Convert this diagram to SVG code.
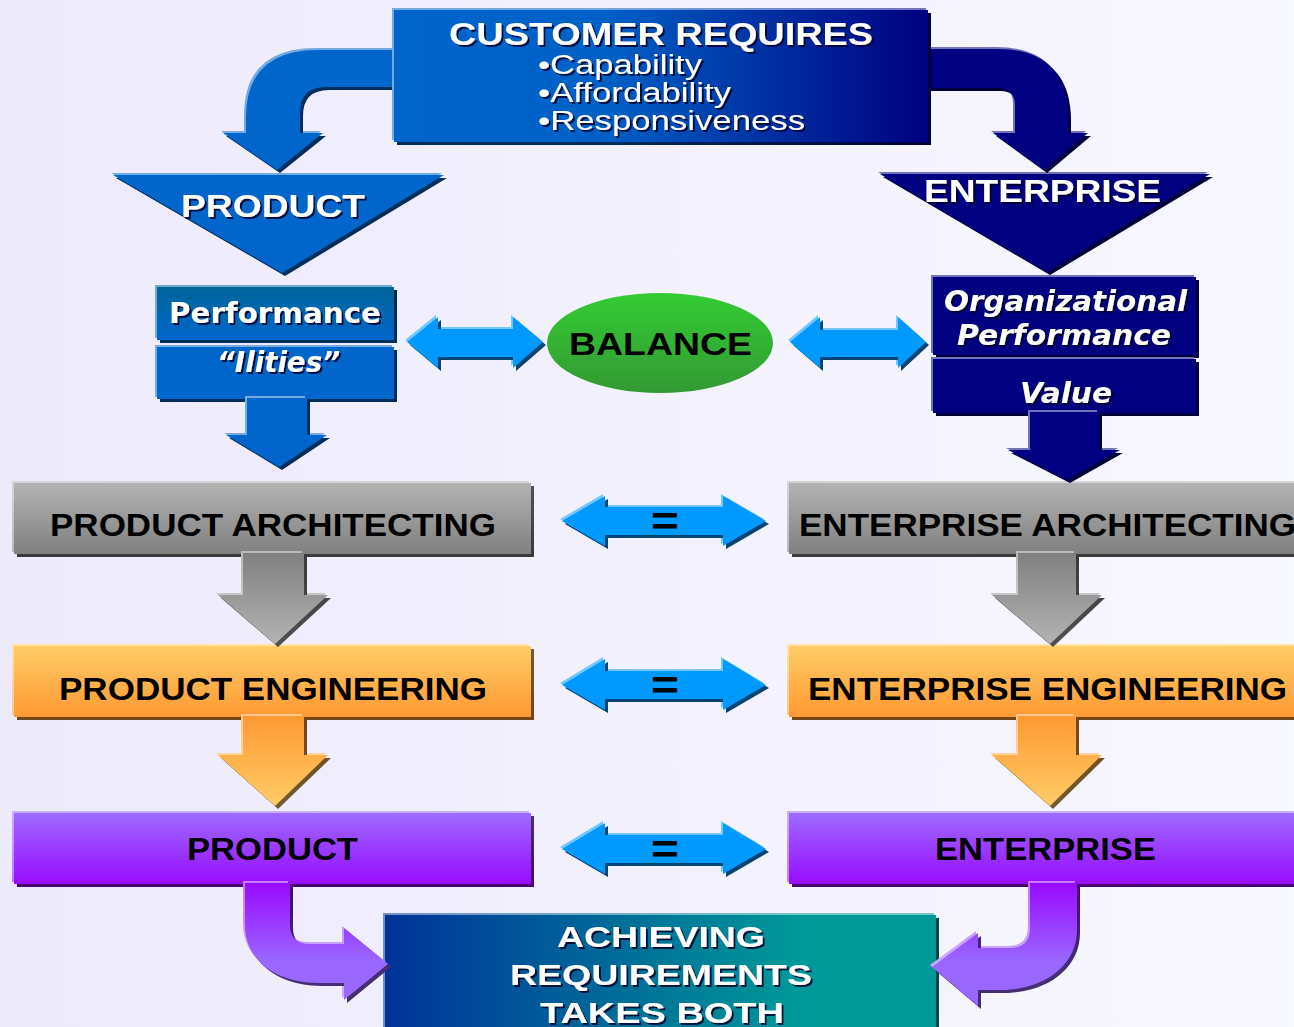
<svg xmlns="http://www.w3.org/2000/svg" width="1294" height="1027" viewBox="0 0 1294 1027">
<defs>
<linearGradient id="bg" x1="0" y1="0" x2="1" y2="0"><stop offset="0" stop-color="#EDEAFC"/><stop offset="1" stop-color="#F8F8FF"/></linearGradient>
<linearGradient id="gCust" x1="0" y1="0" x2="1" y2="0"><stop offset="0" stop-color="#0066CC"/><stop offset="0.4" stop-color="#0060C6"/><stop offset="1" stop-color="#000080"/></linearGradient>
<linearGradient id="gPerf" x1="0" y1="0" x2="0" y2="1"><stop offset="0" stop-color="#006699"/><stop offset="1" stop-color="#0066CC"/></linearGradient>
<linearGradient id="gGray" x1="0" y1="0" x2="0" y2="1"><stop offset="0" stop-color="#B3B3B3"/><stop offset="1" stop-color="#808080"/></linearGradient>
<linearGradient id="gGrayA" x1="0" y1="0" x2="0" y2="1"><stop offset="0" stop-color="#808080"/><stop offset="1" stop-color="#B3B3B3"/></linearGradient>
<linearGradient id="gOr" x1="0" y1="0" x2="0" y2="1"><stop offset="0" stop-color="#FFCC66"/><stop offset="1" stop-color="#FF9933"/></linearGradient>
<linearGradient id="gOrA" x1="0" y1="0" x2="0" y2="1"><stop offset="0" stop-color="#FF9933"/><stop offset="1" stop-color="#FFCC66"/></linearGradient>
<linearGradient id="gPur" x1="0" y1="0" x2="0" y2="1"><stop offset="0" stop-color="#9D6BFF"/><stop offset="1" stop-color="#990BFF"/></linearGradient>
<linearGradient id="gPurA" gradientUnits="userSpaceOnUse" x1="0" y1="884" x2="0" y2="960"><stop offset="0" stop-color="#990BFF"/><stop offset="1" stop-color="#9966FF"/></linearGradient>
<linearGradient id="gBal" x1="0" y1="0" x2="0" y2="1"><stop offset="0" stop-color="#33CC33"/><stop offset="1" stop-color="#339933"/></linearGradient>
<linearGradient id="gAch" x1="0" y1="0" x2="1" y2="0"><stop offset="0" stop-color="#003399"/><stop offset="0.75" stop-color="#009999"/><stop offset="1" stop-color="#009999"/></linearGradient>
<filter id="bev" x="-10%" y="-10%" width="120%" height="125%" color-interpolation-filters="sRGB">
<feOffset in="SourceGraphic" dx="-2" dy="-2" result="o1"/>
<feColorMatrix in="o1" type="matrix" values="0.55 0 0 0 0.45 0 0.55 0 0 0.45 0 0 0.55 0 0.45 0 0 0 1 0" result="hi"/>
<feOffset in="SourceGraphic" dx="3" dy="3" result="o2"/>
<feColorMatrix in="o2" type="matrix" values="0.45 0 0 0 0 0 0.45 0 0 0 0 0 0.45 0 0 0 0 0 1 0" result="sh"/>
<feMerge><feMergeNode in="hi"/><feMergeNode in="sh"/><feMergeNode in="SourceGraphic"/></feMerge>
</filter>
<filter id="ts" x="-5%" y="-20%" width="110%" height="140%">
<feDropShadow dx="2" dy="2" stdDeviation="0" flood-color="#00002A" flood-opacity="0.85"/>
</filter>
</defs>
<style>
.w{fill:#fff;font-family:"Liberation Sans",Arial,sans-serif;font-weight:bold;filter:url(#ts)}
.wn{fill:#fff;font-family:"Liberation Sans",Arial,sans-serif;filter:url(#ts)}
.v{fill:#fff;font-family:"DejaVu Sans",Verdana,sans-serif;font-weight:bold;filter:url(#ts)}
.vi{fill:#fff;font-family:"DejaVu Sans",Verdana,sans-serif;font-weight:bold;font-style:italic;filter:url(#ts)}
.k{fill:#000;font-family:"Liberation Sans",Arial,sans-serif;font-weight:bold}
.b{filter:url(#bev)}
.eq{fill:#0099FF;filter:url(#bev)}
</style>
<rect width="1294" height="1027" fill="url(#bg)"/>

<g id="nodes">
<g id="product-triangle">
<polygon class="b" points="113,175 444,175 282,273" fill="#0066CC"/>
<text class="w" x="181" y="217" font-size="31" textLength="184" lengthAdjust="spacingAndGlyphs">PRODUCT</text>
</g>
<g id="enterprise-triangle">
<polygon class="b" points="880,174 1210,174 1047,272" fill="#000080"/>
<text class="w" x="924" y="202" font-size="31" textLength="237" lengthAdjust="spacingAndGlyphs">ENTERPRISE</text>
</g>
<g id="performance">
<rect class="b" x="157" y="287" width="237" height="53" fill="url(#gPerf)"/>
<text class="v" x="169" y="323" font-size="28" textLength="212" lengthAdjust="spacingAndGlyphs">Performance</text>
</g>
<g id="ilities">
<rect class="b" x="157" y="347" width="237" height="52" fill="#0066CC"/>
<text class="vi" x="217" y="372" font-size="28" textLength="123" lengthAdjust="spacingAndGlyphs">“Ilities”</text>
</g>
<g id="balance">
<ellipse cx="660" cy="343" rx="113" ry="50" fill="url(#gBal)"/>
<text class="k" x="569" y="355" font-size="32" textLength="183" lengthAdjust="spacingAndGlyphs">BALANCE</text>
</g>
<g id="organizational-performance">
<rect class="b" x="933" y="277" width="263" height="78" fill="#000080"/>
<text class="vi" x="944" y="311" font-size="29" textLength="243" lengthAdjust="spacingAndGlyphs">Organizational</text>
<text class="vi" x="957" y="345" font-size="29" textLength="214" lengthAdjust="spacingAndGlyphs">Performance</text>
</g>
<g id="value">
<rect class="b" x="933" y="359" width="263" height="54" fill="#000080"/>
<text class="vi" x="1020" y="403" font-size="29" textLength="92" lengthAdjust="spacingAndGlyphs">Value</text>
</g>
<g id="product-architecting">
<rect class="b" x="14" y="483" width="517" height="71" fill="url(#gGray)"/>
<text class="k" x="50" y="536" font-size="31" textLength="446" lengthAdjust="spacingAndGlyphs">PRODUCT ARCHITECTING</text>
</g>
<g id="enterprise-architecting">
<rect class="b" x="789" y="483" width="520" height="71" fill="url(#gGray)"/>
<text class="k" x="799" y="536" font-size="31" textLength="497" lengthAdjust="spacingAndGlyphs">ENTERPRISE ARCHITECTING</text>
</g>
<g id="product-engineering">
<rect class="b" x="14" y="646" width="517" height="71" fill="url(#gOr)"/>
<text class="k" x="59" y="700" font-size="31" textLength="428" lengthAdjust="spacingAndGlyphs">PRODUCT ENGINEERING</text>
</g>
<g id="enterprise-engineering">
<rect class="b" x="789" y="646" width="520" height="71" fill="url(#gOr)"/>
<text class="k" x="808" y="700" font-size="31" textLength="479" lengthAdjust="spacingAndGlyphs">ENTERPRISE ENGINEERING</text>
</g>
<g id="product">
<rect class="b" x="14" y="813" width="517" height="71" fill="url(#gPur)"/>
<text class="k" x="187" y="860" font-size="31" textLength="171" lengthAdjust="spacingAndGlyphs">PRODUCT</text>
</g>
<g id="enterprise">
<rect class="b" x="789" y="813" width="520" height="71" fill="url(#gPur)"/>
<text class="k" x="935" y="860" font-size="31" textLength="221" lengthAdjust="spacingAndGlyphs">ENTERPRISE</text>
</g>
<g id="achieving-requirements">
<rect class="b" x="385" y="915" width="551" height="130" fill="url(#gAch)"/>
<text class="w" x="557" y="947" font-size="29" textLength="208" lengthAdjust="spacingAndGlyphs">ACHIEVING</text>
<text class="w" x="510" y="985" font-size="29" textLength="302" lengthAdjust="spacingAndGlyphs">REQUIREMENTS</text>
<text class="w" x="540" y="1023" font-size="29" textLength="244" lengthAdjust="spacingAndGlyphs">TAKES BOTH</text>
</g>
</g>

<g id="connectors">
<path class="b" fill="#0066CC" d="M400,50 H318 Q246,50 246,118 V133 H223 L277,170 L323,133 H300 V113 Q300,87 326,87 H400 Z"/>
<path class="b" fill="#000080" d="M920,49 H998 Q1068,49 1068,118 V133 H1088 L1044,170 L993,133 H1015 V106 Q1015,88 997,88 H920 Z"/>
<path class="b" fill="#0066CC" d="M247,398 V435 H226 L279,467 L327,435 H307 V398 Z"/>
<path class="b" fill="#000080" d="M1030,412 V450 H1008 L1067,480 L1120,450 H1099 V412 Z"/>
<path class="eq" d="M407,342 L438,317 V329 H513 V317 L543,342 L513,368 V357 H438 V368 Z"/>
<path class="eq" d="M790,342 L820,317 V330 H898 V317 L926,342 L898,368 V357 H820 V368 Z"/>
<path class="b" fill="url(#gGrayA)" d="M243,553 V595 H218 L275,644 L328,595 H304 V553 Z"/>
<path class="b" fill="url(#gGrayA)" d="M1018,553 V595 H992 L1050,644 L1102,595 H1076 V553 Z"/>
<path class="b" fill="url(#gOrA)" d="M243,716 V755 H218 L275,806 L328,755 H304 V716 Z"/>
<path class="b" fill="url(#gOrA)" d="M1018,716 V755 H992 L1050,806 L1102,755 H1076 V716 Z"/>
<path class="eq" d="M562,521 L605,496 V507 H723 V496 L766,521 L723,546 V535 H605 V546 Z"/>
<text class="k" x="651" y="535" font-size="40" textLength="28" lengthAdjust="spacingAndGlyphs">=</text>
<path class="eq" d="M562,685 L605,659 V671 H723 V659 L766,685 L723,710 V699 H605 V710 Z"/>
<text class="k" x="651" y="699" font-size="40" textLength="28" lengthAdjust="spacingAndGlyphs">=</text>
<path class="eq" d="M562,849 L605,823 V835 H723 V823 L766,849 L723,874 V863 H605 V874 Z"/>
<text class="k" x="651" y="863" font-size="40" textLength="28" lengthAdjust="spacingAndGlyphs">=</text>
<path class="b" fill="url(#gPurA)" d="M245,883 V925 C245,960 275,983 320,983 H344 V1000 L388,964 L344,928 V944 H310 Q290,944 290,925 V883 Z"/>
<path class="b" fill="url(#gPurA)" d="M1077,883 V930 C1077,965 1045,990 1000,990 H978 V1006 L932,967 L978,933 V948 H1010 Q1030,948 1030,928 V883 Z"/>
</g>

<g id="customer-requires">
<rect class="b" x="394" y="10" width="534" height="132" fill="url(#gCust)"/>
<text class="w" x="449" y="45" font-size="31" textLength="424" lengthAdjust="spacingAndGlyphs">CUSTOMER REQUIRES</text>
<text class="wn" x="538" y="74" font-size="27" textLength="164" lengthAdjust="spacingAndGlyphs">•Capability</text>
<text class="wn" x="538" y="102" font-size="27" textLength="193" lengthAdjust="spacingAndGlyphs">•Affordability</text>
<text class="wn" x="538" y="130" font-size="27" textLength="267" lengthAdjust="spacingAndGlyphs">•Responsiveness</text>
</g>
</svg>
